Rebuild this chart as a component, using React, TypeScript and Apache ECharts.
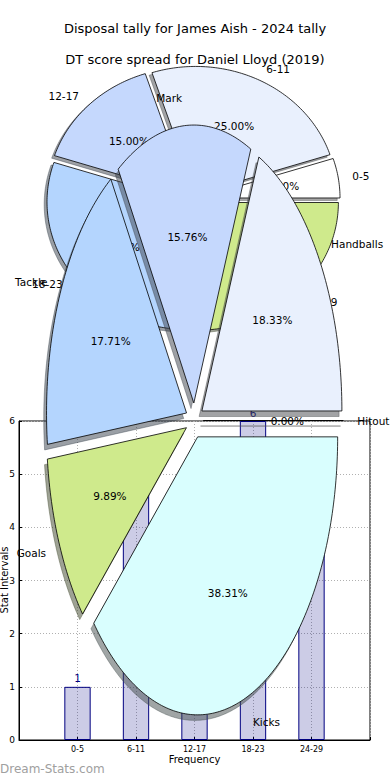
import React, { useEffect, useRef } from 'react';
import * as echarts from 'echarts';

const titleMain = 'Disposal tally for James Aish - 2024 tally';
const titleSub = 'DT score spread for Daniel Lloyd (2019)';

const binCategories = ['0-5', '6-11', '12-17', '18-23', '24-29'];
const binCounts = [1, 5, 3, 6, 5];

const statCategories = ['Hitout', 'Handballs', 'Mark', 'Tackle', 'Goals', 'Kicks'];
const statShares = [0, 18.33, 15.76, 17.71, 9.89, 38.31];

const sliceColors = ['#ffffff', '#e9f0fd', '#c5d8fd', '#b4d5fe', '#cfea8c', '#d9fefe'];

const yTicks = [0, 1, 2, 3, 4, 5, 6];
const yAxisTitle = 'Stat Intervals';
const xAxisTitle = 'Frequency';

const FONT = '"DejaVu Sans", "Liberation Sans", sans-serif';

type PieLayout = { cx: number; cy: number; sx: number; sy: number; explode: number; z: number };

function hexToRgb(h: string) {
  const n = parseInt(h.slice(1), 16);
  return [(n >> 16) & 255, (n >> 8) & 255, n & 255];
}

function makePie(labels: string[], values: number[], L: PieLayout) {
  const total = values.reduce((a, b) => a + b, 0);
  const angles: number[][] = [];
  let acc = 0;
  values.forEach((v) => {
    const a0 = (acc / total) * 360;
    acc += v;
    angles.push([a0, (acc / total) * 360]);
  });
  const toPx = (ux: number, uy: number) => [L.cx + L.sx * ux, L.cy - L.sy * uy];
  return {
    type: 'custom',
    coordinateSystem: 'none',
    z: L.z,
    silent: true,
    data: values.map((v) => [v]),
    renderItem: (params: any) => {
      const i = params.dataIndex;
      const [a0, a1] = angles[i];
      const mid = (((a0 + a1) / 2) * Math.PI) / 180;
      const ox = L.explode * Math.cos(mid);
      const oy = L.explode * Math.sin(mid);
      const pts: number[][] = [toPx(ox, oy)];
      const steps = Math.max(1, Math.ceil((a1 - a0) / 1));
      for (let k = 0; k <= steps; k++) {
        const t = ((a0 + ((a1 - a0) * k) / steps) * Math.PI) / 180;
        pts.push(toPx(ox + Math.cos(t), oy + Math.sin(t)));
      }
      const shadowPts = pts.map(([x, y]) => [x - 0.02 * L.sx, y + 0.02 * L.sy]);
      const col = sliceColors[i % sliceColors.length];
      const rgb = hexToRgb(col).map((c) => Math.round(c * 0.3));
      const shade = `rgb(${rgb[0]},${rgb[1]},${rgb[2]})`;
      const pct = (values[i] / total) * 100;
      const pp = toPx(ox + 0.6 * Math.cos(mid), oy + 0.6 * Math.sin(mid));
      const lx = ox + 1.1 * Math.cos(mid);
      const lp = toPx(lx, oy + 1.1 * Math.sin(mid));
      return {
        type: 'group',
        children: [
          {
            type: 'polygon',
            z2: 1,
            shape: { points: shadowPts },
            style: { fill: shade, stroke: shade, lineWidth: 0.8, opacity: 0.5 },
          },
          {
            type: 'polygon',
            z2: 2,
            shape: { points: pts },
            style: { fill: col, stroke: '#000', lineWidth: 0.8 },
          },
          {
            type: 'text',
            z2: 3,
            x: pp[0],
            y: pp[1],
            style: {
              text: pct.toFixed(2) + '%',
              align: 'center',
              verticalAlign: 'middle',
              fill: '#000',
              font: `10.5px ${FONT}`,
            },
          },
          {
            type: 'text',
            z2: 3,
            x: lp[0],
            y: lp[1],
            style: {
              text: labels[i],
              align: lx > 0 ? 'left' : 'right',
              verticalAlign: 'middle',
              fill: '#000',
              font: `10.5px ${FONT}`,
            },
          },
        ],
      };
    },
  };
}

export default function App() {
  const ref = useRef<HTMLDivElement>(null);
  useEffect(() => {
    if (!ref.current) return;
    const chart = echarts.init(ref.current, undefined, { renderer: 'svg' });
    const xCats = ['', ...binCategories, ''];
    const barData: any[] = ['-', ...binCounts, '-'];
    const option: any = {
      animation: false,
      backgroundColor: '#fff',
      textStyle: { fontFamily: FONT },
      title: [
        {
          text: titleMain,
          left: 'center',
          top: 22,
          padding: 0,
          textStyle: { fontSize: 13, fontWeight: 'normal', color: '#000', fontFamily: FONT },
        },
        {
          text: titleSub,
          left: 'center',
          top: 53,
          padding: 0,
          textStyle: { fontSize: 13, fontWeight: 'normal', color: '#000', fontFamily: FONT },
        },
      ],
      grid: {
        left: 19,
        right: 20,
        top: 421,
        bottom: 40,
        show: true,
        containLabel: false,
        outerBoundsMode: 'none',
        borderColor: '#000',
        borderWidth: 1,
        backgroundColor: 'transparent',
      },
      xAxis: {
        type: 'category',
        data: xCats,
        boundaryGap: false,
        name: xAxisTitle,
        nameLocation: 'middle',
        nameGap: 14,
        nameTextStyle: { fontSize: 10, color: '#000' },
        axisLine: { lineStyle: { color: '#000', width: 1 } },
        axisTick: { inside: true, length: 3, lineStyle: { color: '#000' } },
        axisLabel: { interval: 0, fontSize: 8, color: '#000', margin: 5 },
        splitLine: { show: true, lineStyle: { color: '#b0b0b0', type: [1, 2] } },
      },
      yAxis: {
        type: 'value',
        min: yTicks[0],
        max: yTicks[yTicks.length - 1],
        interval: 1,
        axisLine: { show: true, lineStyle: { color: '#000', width: 1 } },
        axisTick: { show: true, inside: true, length: 3, lineStyle: { color: '#000' } },
        axisLabel: { fontSize: 9, color: '#000', margin: 4 },
        splitLine: { show: true, lineStyle: { color: '#b0b0b0', type: [1, 2] } },
      },
      series: [
        {
          type: 'bar',
          data: barData,
          barWidth: '45%',
          z: 2,
          itemStyle: { color: 'rgba(0,0,128,0.2)', borderColor: '#000080', borderWidth: 1 },
          label: { show: true, position: 'top', color: '#000080', fontSize: 10.5, distance: 3 },
        },
        makePie(binCategories, binCounts, { cx: 193, cy: 198.8, sx: 141.3, sy: 127.7, explode: 0.041, z: 5 }),
        makePie(statCategories, statShares, { cx: 194.5, cy: 420.5, sx: 140, sy: 278, explode: 0.063, z: 6 }),
      ],
      graphic: [
        {
          type: 'text',
          x: 4,
          y: 580,
          rotation: Math.PI / 2,
          z: 1,
          style: {
            text: yAxisTitle,
            fill: '#000',
            font: `10px ${FONT}`,
            align: 'center',
            verticalAlign: 'middle',
          },
        },
        {
          type: 'text',
          left: 0,
          top: 763,
          z: 10,
          style: { text: 'Dream-Stats.com', fill: '#a0a0a0', font: `12px ${FONT}` },
        },
      ],
    };
    chart.setOption(option);
    return () => chart.dispose();
  }, []);
  return (
    <div
      ref={ref}
      style={{ position: 'absolute', left: 0, top: 0, width: 390, height: 780 }}
    />
  );
}
